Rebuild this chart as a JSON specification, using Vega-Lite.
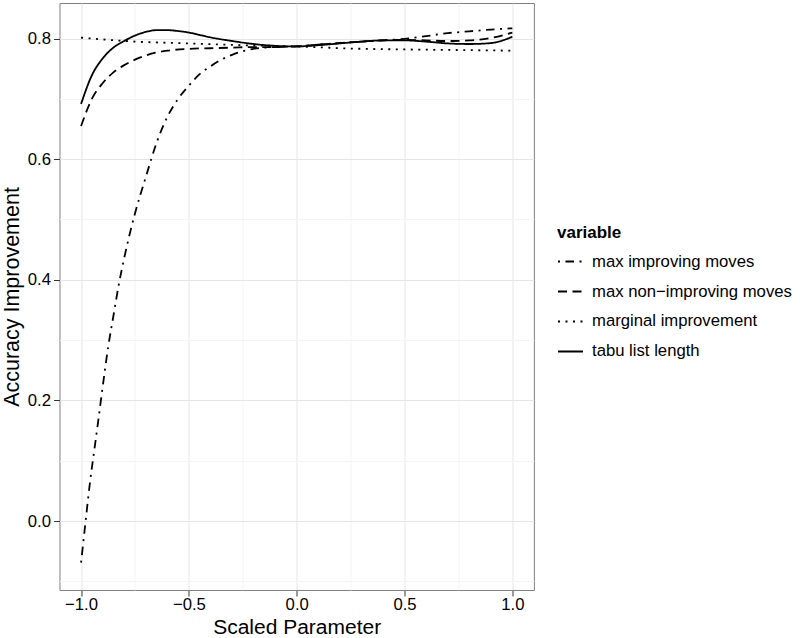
{
  "$schema": "https://vega.github.io/schema/vega-lite/v6.json",
  "width": 474.4,
  "height": 587,
  "autosize": "none",
  "padding": {"left": 59.5, "top": 3, "right": 266, "bottom": 48},
  "background": "white",
  "config": {
    "font": "Liberation Sans",
    "view": {"stroke": "#7f7f7f", "strokeWidth": 1},
    "axis": {
      "domain": false,
      "labelFontSize": 16.7,
      "labelColor": "#000000",
      "titleFontSize": 21.5,
      "titleFontWeight": "normal",
      "titleColor": "#000000",
      "tickSize": 6,
      "tickWidth": 1
    },
    "legend": {
      "titleFontSize": 17,
      "titleFontWeight": "bold",
      "titleColor": "#000000",
      "labelFontSize": 16.7,
      "labelColor": "#000000",
      "labelLimit": 0,
      "symbolType": "stroke",
      "symbolStrokeColor": "black",
      "symbolStrokeWidth": 1.8,
      "symbolSize": 625,
      "rowPadding": 7,
      "labelOffset": 8,
      "padding": 0,
      "titlePadding": 6
    }
  },
  "data": {
    "values": [
      {"x": -1.0, "y": -0.069, "variable": "max improving moves"},
      {"x": -0.98, "y": -0.004, "variable": "max improving moves"},
      {"x": -0.96, "y": 0.06, "variable": "max improving moves"},
      {"x": -0.94, "y": 0.114, "variable": "max improving moves"},
      {"x": -0.92, "y": 0.167, "variable": "max improving moves"},
      {"x": -0.9, "y": 0.222, "variable": "max improving moves"},
      {"x": -0.875, "y": 0.287, "variable": "max improving moves"},
      {"x": -0.85, "y": 0.34, "variable": "max improving moves"},
      {"x": -0.825, "y": 0.392, "variable": "max improving moves"},
      {"x": -0.8, "y": 0.436, "variable": "max improving moves"},
      {"x": -0.775, "y": 0.475, "variable": "max improving moves"},
      {"x": -0.75, "y": 0.51, "variable": "max improving moves"},
      {"x": -0.7, "y": 0.57, "variable": "max improving moves"},
      {"x": -0.65, "y": 0.627, "variable": "max improving moves"},
      {"x": -0.6, "y": 0.67, "variable": "max improving moves"},
      {"x": -0.55, "y": 0.7, "variable": "max improving moves"},
      {"x": -0.5, "y": 0.722, "variable": "max improving moves"},
      {"x": -0.45, "y": 0.741, "variable": "max improving moves"},
      {"x": -0.4, "y": 0.754, "variable": "max improving moves"},
      {"x": -0.35, "y": 0.765, "variable": "max improving moves"},
      {"x": -0.3, "y": 0.773, "variable": "max improving moves"},
      {"x": -0.25, "y": 0.779, "variable": "max improving moves"},
      {"x": -0.2, "y": 0.783, "variable": "max improving moves"},
      {"x": -0.1, "y": 0.786, "variable": "max improving moves"},
      {"x": 0.0, "y": 0.787, "variable": "max improving moves"},
      {"x": 0.1, "y": 0.79, "variable": "max improving moves"},
      {"x": 0.2, "y": 0.7925, "variable": "max improving moves"},
      {"x": 0.3, "y": 0.795, "variable": "max improving moves"},
      {"x": 0.4, "y": 0.797, "variable": "max improving moves"},
      {"x": 0.5, "y": 0.7995, "variable": "max improving moves"},
      {"x": 0.6, "y": 0.804, "variable": "max improving moves"},
      {"x": 0.7, "y": 0.809, "variable": "max improving moves"},
      {"x": 0.8, "y": 0.812, "variable": "max improving moves"},
      {"x": 0.9, "y": 0.815, "variable": "max improving moves"},
      {"x": 1.0, "y": 0.817, "variable": "max improving moves"},

      {"x": -1.0, "y": 0.655, "variable": "max non-improving moves"},
      {"x": -0.95, "y": 0.7, "variable": "max non-improving moves"},
      {"x": -0.9, "y": 0.726, "variable": "max non-improving moves"},
      {"x": -0.85, "y": 0.744, "variable": "max non-improving moves"},
      {"x": -0.8, "y": 0.756, "variable": "max non-improving moves"},
      {"x": -0.75, "y": 0.765, "variable": "max non-improving moves"},
      {"x": -0.7, "y": 0.772, "variable": "max non-improving moves"},
      {"x": -0.65, "y": 0.777, "variable": "max non-improving moves"},
      {"x": -0.6, "y": 0.78, "variable": "max non-improving moves"},
      {"x": -0.5, "y": 0.783, "variable": "max non-improving moves"},
      {"x": -0.4, "y": 0.784, "variable": "max non-improving moves"},
      {"x": -0.3, "y": 0.785, "variable": "max non-improving moves"},
      {"x": -0.2, "y": 0.786, "variable": "max non-improving moves"},
      {"x": -0.1, "y": 0.786, "variable": "max non-improving moves"},
      {"x": 0.0, "y": 0.787, "variable": "max non-improving moves"},
      {"x": 0.1, "y": 0.79, "variable": "max non-improving moves"},
      {"x": 0.2, "y": 0.7925, "variable": "max non-improving moves"},
      {"x": 0.3, "y": 0.795, "variable": "max non-improving moves"},
      {"x": 0.4, "y": 0.797, "variable": "max non-improving moves"},
      {"x": 0.5, "y": 0.798, "variable": "max non-improving moves"},
      {"x": 0.6, "y": 0.797, "variable": "max non-improving moves"},
      {"x": 0.7, "y": 0.796, "variable": "max non-improving moves"},
      {"x": 0.8, "y": 0.797, "variable": "max non-improving moves"},
      {"x": 0.9, "y": 0.801, "variable": "max non-improving moves"},
      {"x": 1.0, "y": 0.81, "variable": "max non-improving moves"},

      {"x": -1.0, "y": 0.8015, "variable": "marginal improvement"},
      {"x": -0.75, "y": 0.795, "variable": "marginal improvement"},
      {"x": -0.5, "y": 0.792, "variable": "marginal improvement"},
      {"x": -0.25, "y": 0.789, "variable": "marginal improvement"},
      {"x": 0.0, "y": 0.787, "variable": "marginal improvement"},
      {"x": 0.25, "y": 0.7835, "variable": "marginal improvement"},
      {"x": 0.5, "y": 0.782, "variable": "marginal improvement"},
      {"x": 0.75, "y": 0.781, "variable": "marginal improvement"},
      {"x": 1.0, "y": 0.78, "variable": "marginal improvement"},

      {"x": -1.0, "y": 0.6915, "variable": "tabu list length"},
      {"x": -0.95, "y": 0.739, "variable": "tabu list length"},
      {"x": -0.9, "y": 0.767, "variable": "tabu list length"},
      {"x": -0.85, "y": 0.785, "variable": "tabu list length"},
      {"x": -0.8, "y": 0.796, "variable": "tabu list length"},
      {"x": -0.75, "y": 0.805, "variable": "tabu list length"},
      {"x": -0.7, "y": 0.811, "variable": "tabu list length"},
      {"x": -0.65, "y": 0.814, "variable": "tabu list length"},
      {"x": -0.6, "y": 0.814, "variable": "tabu list length"},
      {"x": -0.55, "y": 0.8125, "variable": "tabu list length"},
      {"x": -0.5, "y": 0.81, "variable": "tabu list length"},
      {"x": -0.45, "y": 0.806, "variable": "tabu list length"},
      {"x": -0.4, "y": 0.802, "variable": "tabu list length"},
      {"x": -0.3, "y": 0.796, "variable": "tabu list length"},
      {"x": -0.2, "y": 0.791, "variable": "tabu list length"},
      {"x": -0.1, "y": 0.788, "variable": "tabu list length"},
      {"x": 0.0, "y": 0.787, "variable": "tabu list length"},
      {"x": 0.1, "y": 0.789, "variable": "tabu list length"},
      {"x": 0.2, "y": 0.792, "variable": "tabu list length"},
      {"x": 0.3, "y": 0.795, "variable": "tabu list length"},
      {"x": 0.4, "y": 0.797, "variable": "tabu list length"},
      {"x": 0.5, "y": 0.797, "variable": "tabu list length"},
      {"x": 0.6, "y": 0.795, "variable": "tabu list length"},
      {"x": 0.7, "y": 0.792, "variable": "tabu list length"},
      {"x": 0.8, "y": 0.791, "variable": "tabu list length"},
      {"x": 0.9, "y": 0.7925, "variable": "tabu list length"},
      {"x": 1.0, "y": 0.803, "variable": "tabu list length"}
    ]
  },
  "mark": {"type": "line", "color": "black", "strokeWidth": 1.8, "interpolate": "monotone", "strokeCap": "butt"},
  "encoding": {
    "x": {
      "field": "x",
      "type": "quantitative",
      "scale": {"domain": [-1.1, 1.1], "nice": false, "zero": false},
      "axis": {
        "title": "Scaled Parameter",
        "titleFontSize": 21,
        "values": [-1, -0.75, -0.5, -0.25, 0, 0.25, 0.5, 0.75, 1],
        "format": ".1f",
        "labelExpr": "abs(datum.value*2 - round(datum.value*2)) < 0.000001 ? datum.label : ''",
        "gridColor": {"condition": {"test": "abs(datum.value*2 - round(datum.value*2)) < 0.000001", "value": "#e5e5e5"}, "value": "#f4f4f4"},
        "tickColor": {"condition": {"test": "abs(datum.value*2 - round(datum.value*2)) < 0.000001", "value": "#333333"}, "value": "transparent"},
        "labelPadding": 1,
        "titleBaseline": "alphabetic",
        "titleY": 43.5,
        "labelFlush": false
      }
    },
    "y": {
      "field": "y",
      "type": "quantitative",
      "scale": {"domain": [-0.1144, 0.859], "nice": false, "zero": false},
      "axis": {
        "title": "Accuracy Improvement",
        "values": [-0.1, 0, 0.1, 0.2, 0.3, 0.4, 0.5, 0.6, 0.7, 0.8],
        "format": ".1f",
        "labelExpr": "abs(datum.value*5 - round(datum.value*5)) < 0.000001 ? datum.label : ''",
        "gridColor": {"condition": {"test": "abs(datum.value*5 - round(datum.value*5)) < 0.000001", "value": "#e5e5e5"}, "value": "#f4f4f4"},
        "tickColor": {"condition": {"test": "abs(datum.value*5 - round(datum.value*5)) < 0.000001", "value": "#333333"}, "value": "transparent"},
        "labelPadding": 3,
        "titlePadding": 4,
        "labelFlush": false
      }
    },
    "strokeDash": {
      "field": "variable",
      "type": "nominal",
      "scale": {
        "domain": ["max improving moves", "max non-improving moves", "marginal improvement", "tabu list length"],
        "range": [[2, 5.5, 8.5, 5.5], [9, 5.5], [2, 5.5], [1, 0]]
      },
      "legend": {
        "title": "variable",
        "orient": "none",
        "legendX": 497.5,
        "legendY": 222,
        "labelExpr": "replace(datum.label, 'non-', 'non\u2212')"
      }
    }
  }
}
